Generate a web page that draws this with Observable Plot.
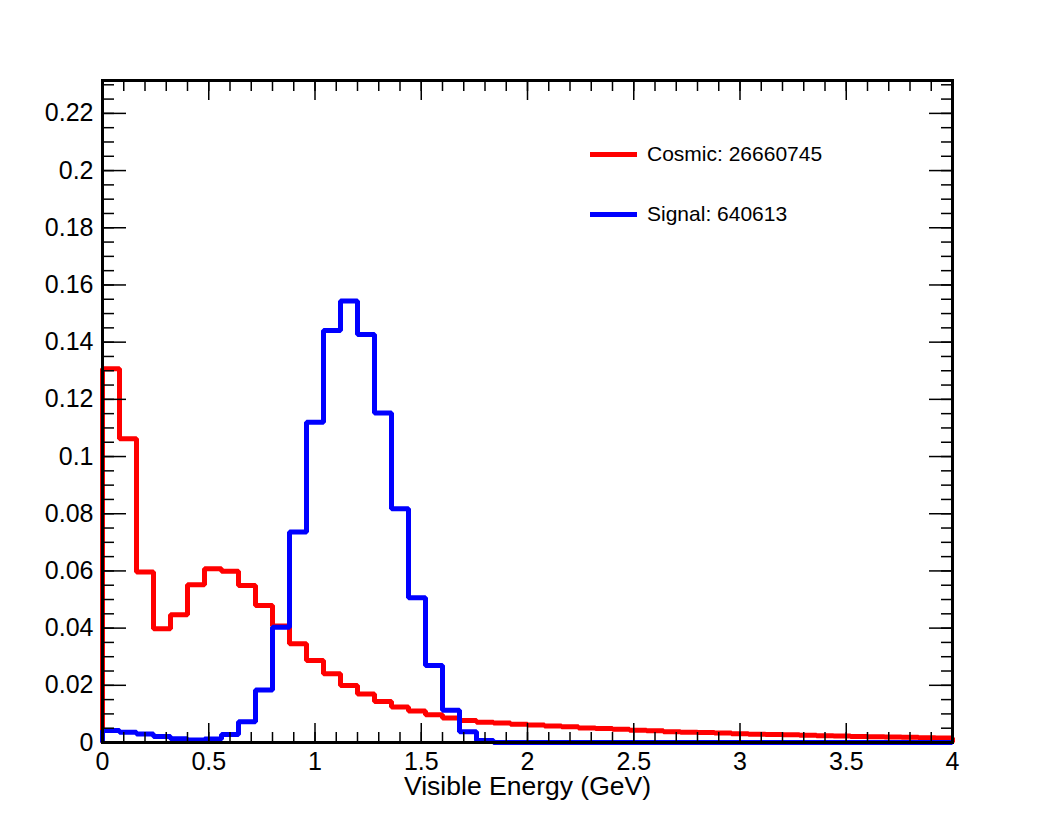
<!DOCTYPE html>
<html>
<head>
<meta charset="utf-8">
<script src="https://cdn.jsdelivr.net/npm/d3@7"></script>
<script src="https://cdn.jsdelivr.net/npm/@observablehq/plot@0.6"></script>
<style>
  html, body { margin: 0; padding: 0; background: #fff; }
  #wrap { position: relative; width: 1055px; height: 821px; font-family: "Liberation Sans", Arial, sans-serif; }
  #wrap svg { position: absolute; left: 0; top: 0; }
  .leg { position: absolute; left: 590px; height: 24px; line-height: 24px; display: flex; align-items: center; font-size: 21px; color: #000; white-space: nowrap; }
  .leg .sw { width: 47px; height: 5px; margin-right: 10px; }
</style>
</head>
<body>
<div id="wrap"></div>
<script>
// Histogram binning: 50 bins of 0.08 GeV between 0 and 4 GeV
const binWidth = 0.08;
const nBins = 50;
const xMin = 0, xMax = 4;

// Normalised bin contents
const cosmic = [
  0.1307, 0.1062, 0.0596, 0.0398, 0.0447, 0.0552, 0.0608, 0.0599, 0.0549, 0.0479,
  0.0407, 0.0345, 0.0287, 0.0240, 0.0199, 0.0170, 0.0143, 0.0124, 0.0110, 0.0097,
  0.0086, 0.0077, 0.0071, 0.0068, 0.0064, 0.0061, 0.0058, 0.0055, 0.0051, 0.0049,
  0.0046, 0.0043, 0.0041, 0.0038, 0.0036, 0.0035, 0.0033, 0.0031, 0.0029, 0.0028,
  0.0027, 0.0025, 0.0024, 0.0023, 0.0021, 0.0020, 0.0019, 0.0018, 0.0017, 0.0016
];
const signal = [
  0.0042, 0.0036, 0.0030, 0.0021, 0.0013, 0.0009, 0.0012, 0.0028, 0.0073, 0.0184,
  0.0403, 0.0736, 0.1120, 0.1441, 0.1544, 0.1427, 0.1152, 0.0817, 0.0506, 0.0269,
  0.0113, 0.0038, 0.0007, 0, 0, 0, 0, 0, 0, 0,
  0, 0, 0, 0, 0, 0, 0, 0, 0, 0,
  0, 0, 0, 0, 0, 0, 0, 0, 0, 0
];

const seriesNames = ["Cosmic", "Signal"];
const seriesCounts = ["26660745", "640613"];
const seriesColors = ["#ff0000", "#0000ff"];

const xMajorTicks = [0, 0.5, 1, 1.5, 2, 2.5, 3, 3.5, 4];
const yMajorTicks = [0, 0.02, 0.04, 0.06, 0.08, 0.1, 0.12, 0.14, 0.16, 0.18, 0.2, 0.22];
const xMinorTicks = d3.range(0, 41).map(i => i / 10);
const yMinorTicks = d3.range(0, 47).map(i => i * 0.005);
const yTop = 0.2315;

const xTitle = "Visible Energy (GeV)";

// step outline of a histogram, closed down to zero at both ends
function outline(values) {
  const pts = [{x: xMin, y: 0}];
  values.forEach((v, i) => pts.push({x: xMin + i * binWidth, y: v}));
  pts.push({x: xMax, y: values[values.length - 1]});
  pts.push({x: xMax, y: 0});
  return pts;
}

const fmt = d => String(d);
const noText = () => "";

const lineStyle = {x: "x", y: "y", curve: "step-after", strokeWidth: 5, strokeLinejoin: "miter", strokeLinecap: "butt"};

const chart = Plot.plot({
  width: 1055,
  height: 821,
  marginLeft: 102,
  marginRight: 103,
  marginTop: 80,
  marginBottom: 79,
  style: {fontFamily: '"Liberation Sans", Arial, sans-serif', fontSize: "25px", color: "black", background: "white", overflow: "visible"},
  x: {domain: [xMin, xMax], label: null},
  y: {domain: [0, yTop], label: null},
  marks: [
    Plot.line(outline(cosmic), {...lineStyle, stroke: seriesColors[0]}),
    Plot.line(outline(signal), {...lineStyle, stroke: seriesColors[1]}),
    Plot.frame({stroke: "black", strokeWidth: 3}),
    // inward ticks, all four sides
    Plot.axisX({anchor: "bottom", ticks: xMinorTicks, tickSize: -10, tickFormat: noText, label: null, strokeWidth: 1.5}),
    Plot.axisX({anchor: "bottom", ticks: xMajorTicks, tickSize: -19, tickFormat: fmt, tickPadding: 29, label: null, strokeWidth: 1.5}),
    Plot.axisX({anchor: "top", ticks: xMinorTicks, tickSize: -10, tickFormat: noText, label: null, strokeWidth: 1.5}),
    Plot.axisX({anchor: "top", ticks: xMajorTicks, tickSize: -19, tickFormat: noText, label: null, strokeWidth: 1.5}),
    Plot.axisY({anchor: "left", ticks: yMinorTicks.filter(v => v <= yTop), tickSize: -12, tickFormat: noText, label: null, strokeWidth: 1.5}),
    Plot.axisY({anchor: "left", ticks: yMajorTicks, tickSize: -24, tickFormat: fmt, tickPadding: 33, label: null, strokeWidth: 1.5}),
    Plot.axisY({anchor: "right", ticks: yMinorTicks.filter(v => v <= yTop), tickSize: -12, tickFormat: noText, label: null, strokeWidth: 1.5}),
    Plot.axisY({anchor: "right", ticks: yMajorTicks, tickSize: -24, tickFormat: noText, label: null, strokeWidth: 1.5}),
    Plot.text([xTitle], {frameAnchor: "bottom", dy: 52, text: d => d, fontSize: 26.5, fill: "black"})
  ]
});

const wrap = document.getElementById("wrap");
wrap.appendChild(chart);

// legend
const legendTops = [142, 202];
seriesNames.forEach((name, i) => {
  const row = document.createElement("div");
  row.className = "leg";
  row.style.top = legendTops[i] + "px";
  const sw = document.createElement("span");
  sw.className = "sw";
  sw.style.background = seriesColors[i];
  const label = document.createElement("span");
  label.textContent = `${name}: ${seriesCounts[i]}`;
  row.appendChild(sw);
  row.appendChild(label);
  wrap.appendChild(row);
});
</script>
</body>
</html>
